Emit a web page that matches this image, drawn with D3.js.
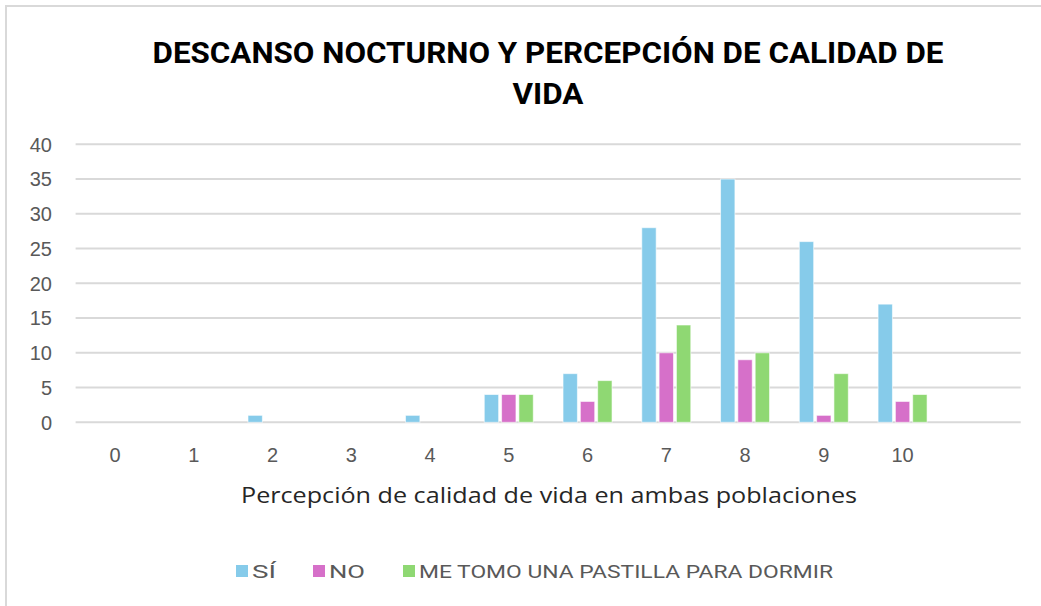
<!DOCTYPE html>
<html>
<head>
  <meta charset="utf-8">
  <title>Descanso nocturno y percepción de calidad de vida</title>
  <script src="https://d3js.org/d3.v7.min.js"></script>
  <style>
    html, body { margin: 0; padding: 0; background: #fff; }
    svg { display: block; }
  </style>
</head>
<body>
  <svg id="chart" width="1041" height="606"></svg>

  <script>
    // Data
    const categories = ['0', '1', '2', '3', '4', '5', '6', '7', '8', '9', '10'];
    const series = ['SÍ', 'NO', 'ME TOMO UNA PASTILLA PARA DORMIR'];
    const siValues = [0, 0, 1, 0, 1, 4, 7, 28, 35, 26, 17];
    const noValues = [0, 0, 0, 0, 0, 4, 3, 10, 9, 1, 3];
    const pastillaValues = [0, 0, 0, 0, 0, 4, 6, 14, 10, 7, 4];
    const colors = ['#86cbea', '#d670c9', '#8fd873'];
    const yTicks = [0, 5, 10, 15, 20, 25, 30, 35, 40];

    const seriesValues = [siValues, noValues, pastillaValues];

    const svg = d3.select('#chart');

    // Outer chart border (only left/top visible in the frame)
    svg.append('rect')
      .attr('x', 6).attr('y', 6)
      .attr('width', 1100).attr('height', 700)
      .attr('fill', '#fff')
      .attr('stroke', '#d9d9d9')
      .attr('stroke-width', 2);

    const plotLeft = 75.6, plotRight = 1020.7, plotTop = 144.3, plotBottom = 422.3;

    // the original has one extra empty slot after "10"
    const x0 = d3.scaleBand()
      .domain(categories.concat(['']))
      .range([plotLeft, plotRight]);

    const x1 = d3.scaleBand()
      .domain(series)
      .range([-24.5, 24.5])
      .paddingInner(0.17);

    const y = d3.scaleLinear()
      .domain([0, 40])
      .range([plotBottom, plotTop]);

    // Gridlines
    svg.append('g')
      .selectAll('line')
      .data(yTicks)
      .join('line')
      .attr('x1', plotLeft).attr('x2', plotRight)
      .attr('y1', d => y(d)).attr('y2', d => y(d))
      .attr('stroke', '#d9d9d9')
      .attr('stroke-width', 2);

    // Y tick labels
    svg.append('g')
      .selectAll('text')
      .data(yTicks)
      .join('text')
      .attr('x', 52)
      .attr('y', d => y(d))
      .attr('dy', '0.36em')
      .attr('text-anchor', 'end')
      .attr('font-family', 'Liberation Sans, Arial, sans-serif')
      .attr('font-size', 20)
      .attr('fill', '#595959')
      .text(d => d);

    // Bars
    const barData = [];
    categories.forEach((c, i) => {
      series.forEach((s, j) => {
        const v = seriesValues[j][i];
        if (v > 0) barData.push({ cat: c, series: s, value: v, color: colors[j] });
      });
    });

    svg.append('g')
      .selectAll('rect')
      .data(barData)
      .join('rect')
      .attr('x', d => x0(d.cat) + x0.bandwidth() / 2 + x1(d.series))
      .attr('y', d => y(d.value))
      .attr('width', x1.bandwidth())
      .attr('height', d => y(0) - y(d.value))
      .attr('fill', d => d.color)
      .attr('stroke', '#ffffff')
      .attr('stroke-opacity', 0.6)
      .attr('stroke-width', 1);

    // X tick labels
    svg.append('g')
      .selectAll('text')
      .data(categories)
      .join('text')
      .attr('x', d => x0(d) + x0.bandwidth() / 2)
      .attr('y', 462)
      .attr('text-anchor', 'middle')
      .attr('font-family', 'Liberation Sans, Arial, sans-serif')
      .attr('font-size', 20)
      .attr('fill', '#595959')
      .text(d => d);

    // Title
    const title = svg.append('text')
      .attr('text-anchor', 'middle')
      .attr('font-family', 'Roboto, Inter, sans-serif')
      .attr('font-weight', 'bold')
      .attr('font-size', 30)
      .attr('fill', '#000');
    title.append('tspan')
      .attr('x', 548).attr('y', 63)
      .attr('textLength', 791)
      .attr('lengthAdjust', 'spacingAndGlyphs')
      .text('DESCANSO NOCTURNO Y PERCEPCIÓN DE CALIDAD DE');
    title.append('tspan')
      .attr('x', 548).attr('y', 104)
      .attr('textLength', 71)
      .attr('lengthAdjust', 'spacingAndGlyphs')
      .text('VIDA');

    // Axis title
    svg.append('text')
      .attr('x', 549)
      .attr('y', 503)
      .attr('text-anchor', 'middle')
      .attr('font-family', 'Open Sans, sans-serif')
      .attr('font-size', 22)
      .attr('fill', '#262626')
      .attr('textLength', 616)
      .attr('lengthAdjust', 'spacingAndGlyphs')
      .text('Percepción de calidad de vida en ambas poblaciones');

    // Legend
    const legendX = [236, 313, 403];
    const legendW = [24, 36, 414];
    const legend = svg.append('g')
      .selectAll('g')
      .data(series)
      .join('g')
      .attr('transform', (d, i) => `translate(${legendX[i]},565)`);
    legend.append('rect')
      .attr('width', 12).attr('height', 12)
      .attr('fill', (d, i) => colors[i]);
    legend.append('text')
      .attr('x', 16)
      .attr('y', 13)
      .attr('font-family', 'Roboto, sans-serif')
      .attr('font-size', 19)
      .attr('fill', '#595959')
      .attr('textLength', (d, i) => legendW[i])
      .attr('lengthAdjust', 'spacingAndGlyphs')
      .text(d => d);
  </script>
</body>
</html>
